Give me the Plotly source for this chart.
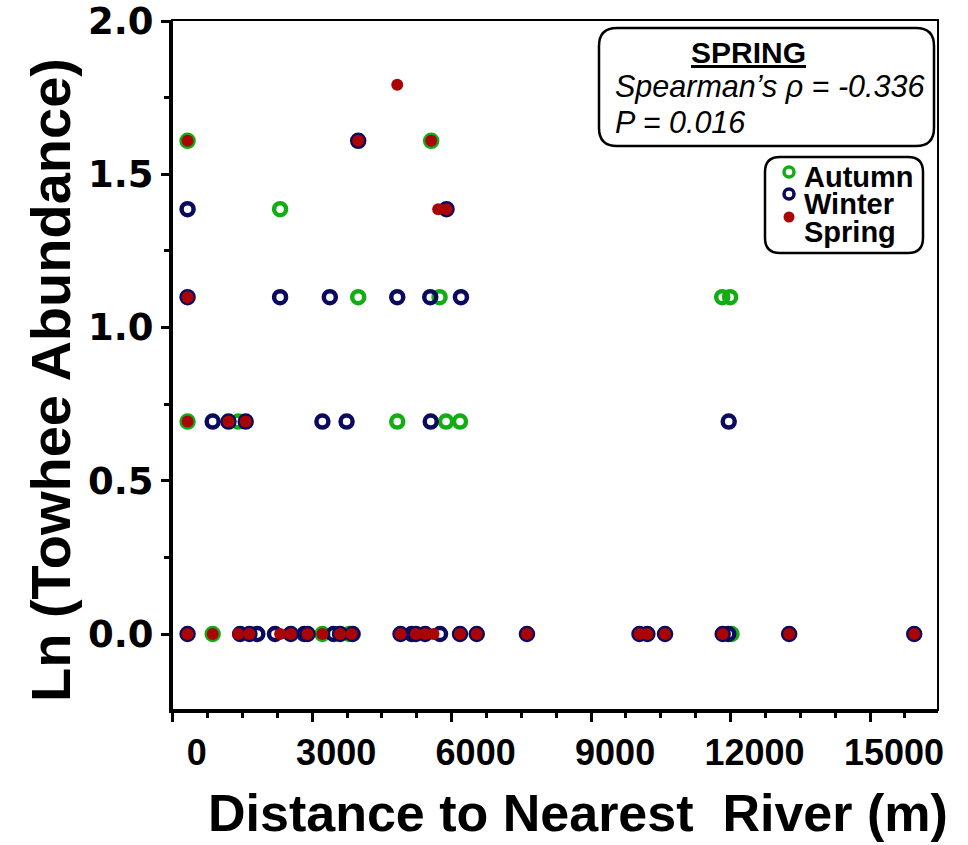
import plotly.graph_objects as go

# ---------------- data ----------------
autumn_x = [860, 3220, 3800, 12020,
            320, 1410, 4830, 5880, 6180,
            3990, 5740, 11820, 11990,
            2310,
            320, 5560]
autumn_y = [0, 0, 0, 0,
            0.693, 0.693, 0.693, 0.693, 0.693,
            1.099, 1.099, 1.099, 1.099,
            1.386,
            1.609, 1.609]

winter_x = [320, 1450, 1650, 1820, 2200, 2540, 2830, 2900, 3460, 3600, 3870,
            4900, 5140, 5230, 5430, 5750, 6180, 6540, 7620, 10040, 10210,
            10590, 11830, 11950, 13260, 15950,
            860, 1200, 1570, 3220, 3740, 5550, 11960,
            320, 2310, 3380, 4830, 5540, 6200,
            320, 5890,
            3990]
winter_y = [0] * 26 + [0.693] * 7 + [1.099] * 6 + [1.386] * 2 + [1.609]

spring_x = [320, 860, 1410, 1650, 2310, 2540, 2900, 3220, 3600, 3850, 4900,
            5230, 5430, 5610, 6180, 6540, 7620, 10040, 10210, 10590, 11830,
            13260, 15950,
            320, 1200, 1570,
            320,
            5710, 5890,
            320, 3990, 5560,
            4830]
spring_y = [0] * 23 + [0.693] * 3 + [1.099] + [1.386] * 2 + [1.609] * 3 + [1.792]

x_tickvals = [0, 3000, 6000, 9000, 12000, 15000]
x_ticktext = ["0", "3000", "6000", "9000", "12000", "15000"]
y_tickvals = [0, 0.5, 1.0, 1.5, 2.0]
y_ticktext = ["0.0", "0.5", "1.0", "1.5", "2.0"]

GREEN = "#12ad12"
NAVY = "#0a0a5e"
RED = "#aa0505"
FONT = "Liberation Sans"

# ---------------- layout geometry (pixels) ----------------
W, H = 968, 845
L, R, T, B = 172, 30, 20, 135
PX0, PX1 = L, W - R
PY0, PY1 = T, H - B


def px2paper(px, py):
    return (px - PX0) / (PX1 - PX0), (PY1 - py) / (PY1 - PY0)


def rounded_rect(xa, ya, xb, yb, r):
    def p(x, y):
        a, b = px2paper(x, y)
        return f"{a:.5f},{b:.5f}"
    return (f"M {p(xa + r, ya)} L {p(xb - r, ya)} Q {p(xb, ya)} {p(xb, ya + r)} "
            f"L {p(xb, yb - r)} Q {p(xb, yb)} {p(xb - r, yb)} "
            f"L {p(xa + r, yb)} Q {p(xa, yb)} {p(xa, yb - r)} "
            f"L {p(xa, ya + r)} Q {p(xa, ya)} {p(xa + r, ya)} Z")


fig = go.Figure()

fig.add_trace(go.Scatter(
    x=autumn_x, y=autumn_y, mode="markers", name="Autumn",
    marker=dict(symbol="circle-open", size=12, color=GREEN,
                line=dict(width=4.5, color=GREEN)),
    showlegend=False, cliponaxis=False))
fig.add_trace(go.Scatter(
    x=winter_x, y=winter_y, mode="markers", name="Winter",
    marker=dict(symbol="circle-open", size=12, color=NAVY,
                line=dict(width=4.5, color=NAVY)),
    showlegend=False, cliponaxis=False))
fig.add_trace(go.Scatter(
    x=spring_x, y=spring_y, mode="markers", name="Spring",
    marker=dict(symbol="circle", size=12, color=RED,
                line=dict(width=0)),
    showlegend=False, cliponaxis=False))

shapes = []
# plot frame (top/right)
shapes.append(dict(type="rect", xref="paper", yref="paper", x0=0, x1=1, y0=0, y1=1,
                   line=dict(color="black", width=2), layer="below"))
# statistics box
shapes.append(dict(type="path", xref="paper", yref="paper",
                   path=rounded_rect(599, 28, 934, 146, 18),
                   line=dict(color="black", width=2.5), fillcolor="white"))
# legend box
shapes.append(dict(type="path", xref="paper", yref="paper",
                   path=rounded_rect(765, 157, 923, 253, 15),
                   line=dict(color="black", width=2.5), fillcolor="white"))

# legend symbols
legend_items = [("Autumn", GREEN, False, 172, 177),
                ("Winter", NAVY, False, 194, 204),
                ("Spring", RED, True, 217, 232)]
annotations = []
for name, col, filled, my, ty in legend_items:
    ax, ay = px2paper(789, my)
    if filled:
        shapes.append(dict(type="circle", xref="paper", yref="paper",
                           xsizemode="pixel", ysizemode="pixel", xanchor=ax, yanchor=ay,
                           x0=-5.5, x1=5.5, y0=-5.5, y1=5.5,
                           fillcolor=col, line=dict(width=0)))
    else:
        shapes.append(dict(type="circle", xref="paper", yref="paper",
                           xsizemode="pixel", ysizemode="pixel", xanchor=ax, yanchor=ay,
                           x0=-5, x1=5, y0=-5, y1=5,
                           line=dict(color=col, width=3.5)))
    tx, tyy = px2paper(802, ty)
    annotations.append(dict(xref="paper", yref="paper", x=tx, y=tyy, text=name,
                            showarrow=False, xanchor="left", yanchor="middle",
                            font=dict(family=FONT, size=29, color="black", weight="bold")))

# statistics texts
sx, sy = px2paper(748, 52)
annotations.append(dict(xref="paper", yref="paper", x=sx, y=sy, text="<u>SPRING</u>",
                        showarrow=False, xanchor="center", yanchor="middle",
                        font=dict(family=FONT, size=30, color="black", weight="bold")))
sx, sy = px2paper(613, 86)
annotations.append(dict(xref="paper", yref="paper", x=sx, y=sy,
                        text="Spearman\u2019s \u03c1 = -0.336",
                        showarrow=False, xanchor="left", yanchor="middle",
                        font=dict(family=FONT, size=30.5, color="black", style="italic")))
sx, sy = px2paper(613, 122)
annotations.append(dict(xref="paper", yref="paper", x=sx, y=sy,
                        text="P = 0.016",
                        showarrow=False, xanchor="left", yanchor="middle",
                        font=dict(family=FONT, size=30.5, color="black", style="italic")))

# axis titles
tx, ty = px2paper(578, 813)
annotations.append(dict(xref="paper", yref="paper", x=tx, y=ty,
                        text="Distance to Nearest\u00a0 River (m)",
                        showarrow=False, xanchor="center", yanchor="middle",
                        font=dict(family=FONT, size=52, color="black", weight="bold")))
tx, ty = px2paper(50, 380)
annotations.append(dict(xref="paper", yref="paper", x=tx, y=ty,
                        text="Ln (Towhee Abundance)", textangle=-90,
                        showarrow=False, xanchor="center", yanchor="middle",
                        font=dict(family=FONT, size=56, color="black", weight="bold")))

x_per_px = 1000 / 46.49
fig.update_layout(
    width=W, height=H,
    margin=dict(l=L, r=R, t=T, b=B, pad=0, autoexpand=False),
    paper_bgcolor="white", plot_bgcolor="white",
    shapes=shapes, annotations=annotations,
    xaxis=dict(range=[-(172.7 - PX0) * x_per_px, (PX1 - 172.7) * x_per_px],
               automargin=False,
               showgrid=False, zeroline=False,
               showline=True, linecolor="black", linewidth=3,
               ticks="outside", ticklen=9, tickwidth=3, tickcolor="black",
               tickvals=x_tickvals, ticktext=x_ticktext,
               ticklabelshift=24, ticklabelstandoff=0,
               minor=dict(dtick=750, tick0=0, ticks="outside", ticklen=5,
                          tickwidth=2.5, tickcolor="black", showgrid=False),
               tickfont=dict(family=FONT, size=36, color="black", weight="bold")),
    yaxis=dict(range=[-(PY1 - 634) / 306.5, (634 - PY0) / 306.5],
               automargin=False,
               showgrid=False, zeroline=False,
               showline=True, linecolor="black", linewidth=3,
               ticks="outside", ticklen=8, tickwidth=3, tickcolor="black",
               tickvals=y_tickvals, ticktext=y_ticktext,
               ticklabeloverflow="allow",
               minor=dict(dtick=0.25, tick0=0, ticks="outside", ticklen=5,
                          tickwidth=2.5, tickcolor="black", showgrid=False),
               tickfont=dict(family="DejaVu Sans", size=37, color="black", weight="bold")),
)

fig.write_html("out.html")
